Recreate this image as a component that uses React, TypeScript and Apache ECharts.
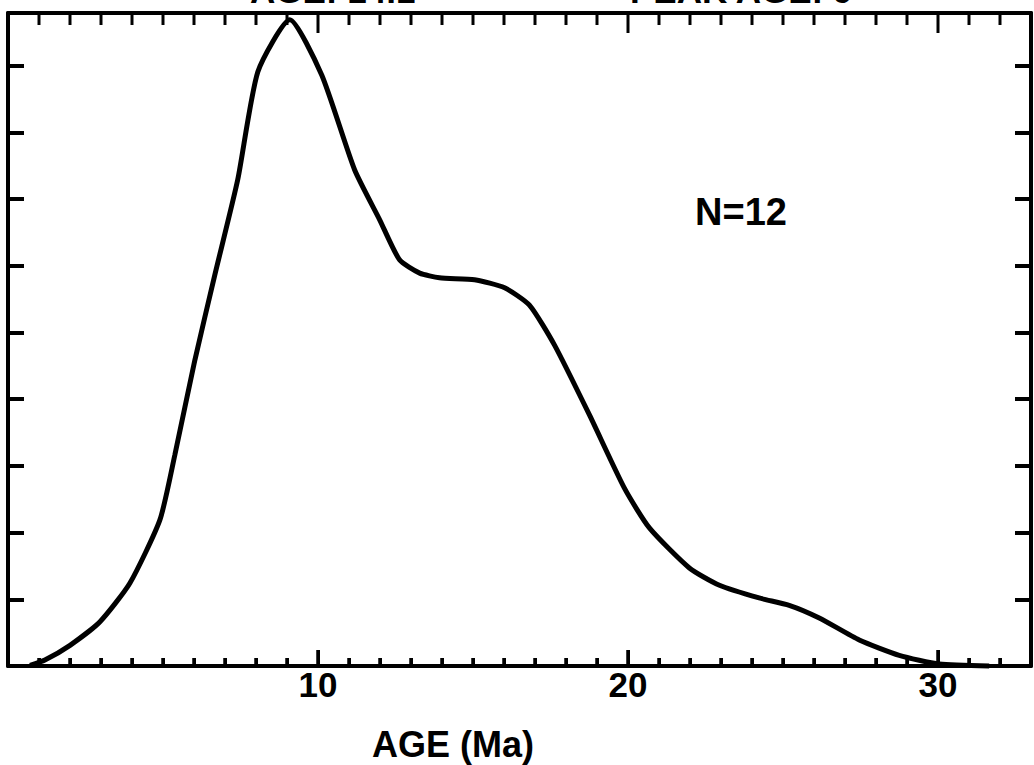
import React, { useEffect, useRef } from "react";
import * as echarts from "echarts";

// Age (Ma) and relative probability density
const ages = [
  0.71, 1.19, 2.0, 2.96, 3.93, 4.9, 5.38, 6.03, 6.67, 7.41, 8.06, 9.09, 10.12, 11.18, 11.99,
  12.63, 13.28, 13.92, 15.05, 16.02, 16.82, 17.63, 18.76, 19.88, 20.69, 21.98, 22.95, 24.23,
  25.2, 26.17, 27.46, 28.75, 30.04, 31.65,
];
const density = [
  0.01, 0.09, 0.31, 0.66, 1.24, 2.19, 3.16, 4.59, 5.86, 7.29, 8.91, 9.69, 8.86, 7.44, 6.69,
  6.09, 5.89, 5.82, 5.79, 5.67, 5.41, 4.81, 3.76, 2.67, 2.07, 1.47, 1.21, 1.02, 0.91, 0.72,
  0.39, 0.16, 0.03, 0.0,
];
const xTickLabels = ["10", "20", "30"];
const majorXTicks = [10, 20, 30];
const minorXTicks = [
  1, 2, 3, 4, 5, 6, 7, 8, 9, 11, 12, 13, 14, 15, 16, 17, 18, 19, 21, 22, 23, 24, 25, 26, 27, 28,
  29, 31, 32,
];
const xName = "AGE (Ma)";
const nLabel = "N=12";
const topLeftText = "AGE: 14.1";
const topRightText = "PEAK AGE: 9";

const X_MIN = 0;
const X_MAX = 33;
const Y_MIN = 0;
const Y_MAX = 9.79;

const FONT = "'Liberation Sans', Arial, Helvetica, sans-serif";

export default function App() {
  const ref = useRef<HTMLDivElement>(null);
  useEffect(() => {
    if (!ref.current) return;
    const chart = echarts.init(ref.current, null, { renderer: "svg" });
    const lineStyle = { color: "#000", width: 4 };
    const yCommon = {
      type: "value" as const,
      min: Y_MIN,
      max: Y_MAX,
      interval: 1,
      axisLine: { show: true, onZero: false, lineStyle },
      axisTick: { show: true, inside: true, length: 16, lineStyle: { color: "#000", width: 4 } },
      axisLabel: { show: false },
      splitLine: { show: false },
    };
    const tickData = [
      ...majorXTicks.map((v) => [v, 5, 1]),
      ...minorXTicks.map((v) => [v, 5, 0]),
    ];
    const textGraphics = [
      {
        type: "text",
        left: 372,
        top: 726,
        style: { text: xName, fill: "#000", font: `bold 36px ${FONT}` },
      },
      {
        type: "text",
        left: 695,
        top: 193,
        style: { text: nLabel, fill: "#000", font: `bold 38px ${FONT}` },
      },
      {
        type: "text",
        x: 250,
        y: 8,
        style: { text: topLeftText, fill: "#000", font: `bold 35px ${FONT}`, verticalAlign: "bottom" },
      },
      {
        type: "text",
        x: 630,
        y: 8,
        style: { text: topRightText, fill: "#000", font: `bold 35px ${FONT}`, verticalAlign: "bottom" },
      },
    ];
    // bottom ticks as mark lines in data units (16 px and 8 px tall)
    const unitPx = (765 - 99 - 13) / (Y_MAX - Y_MIN);
    const markTicks = [
      ...majorXTicks.map((v) => [{ coord: [v, Y_MIN] }, { coord: [v, Y_MIN + 16 / unitPx] }]),
      ...minorXTicks.map((v) => [{ coord: [v, Y_MIN] }, { coord: [v, Y_MIN + 8 / unitPx] }]),
    ];
    chart.setOption({
      animation: false,
      backgroundColor: "#fff",
      grid: { left: 8, right: 2, top: 13, bottom: 99, containLabel: false },
      xAxis: [
        {
          type: "value",
          min: X_MIN,
          max: X_MAX,
          interval: 10,
          position: "bottom",
          axisLine: { show: true, onZero: false, lineStyle },
          axisTick: { show: true, inside: true, length: 16, lineStyle: { color: "#000", width: 3 } },
          minorTick: { show: true, splitNumber: 10, length: 8, lineStyle: { color: "#000", width: 3 } },
          splitLine: { show: false },
          axisLabel: {
            show: true,
            margin: 1,
            color: "#000",
            fontSize: 35,
            fontWeight: "bold",
            fontFamily: FONT,
            formatter: (v: number) => (xTickLabels.includes(String(v)) ? String(v) : ""),
          },
        },
        {
          type: "value",
          min: X_MIN,
          max: X_MAX,
          interval: 10,
          position: "top",
          axisLine: { show: true, onZero: false, lineStyle },
          axisTick: { show: false },
          splitLine: { show: false },
          axisLabel: { show: false },
        },
      ],
      yAxis: [
        { ...yCommon, position: "left" },
        { ...yCommon, position: "right" },
      ],
      series: [
        {
          type: "custom",
          xAxisIndex: 0,
          yAxisIndex: 0,
          silent: true,
          clip: false,
          z: 50,
          data: tickData,
          encode: { x: 0, y: 1 },
          renderItem: (params: any, api: any) => {
            const v = api.value(0);
            const major = api.value(2) === 1;
            const pt = api.coord([v, Y_MAX]);
            const cs = params.coordSys;
            const topY = cs.y;
            const bottomY = cs.y + cs.height;
            const lenB = major ? 16 : 8;
            const lenT = major ? 20 : 12;
            return {
              type: "group",
              children: [
                {
                  type: "rect",
                  shape: { x: pt[0] - 1.5, y: bottomY - lenB, width: 3, height: lenB },
                  style: { fill: "#000" },
                },
                {
                  type: "rect",
                  shape: { x: pt[0] - 1.5, y: topY, width: 3, height: lenT },
                  style: { fill: "#000" },
                },
              ],
            };
          },
        },
        {
          type: "line",
          xAxisIndex: 0,
          yAxisIndex: 0,
          data: ages.map((a, i) => [a, density[i]]),
          showSymbol: false,
          smooth: 0.2,
          lineStyle: { color: "#000", width: 5 },
          clip: false,
          markLine: {
            silent: true,
            symbol: "none",
            animation: false,
            label: { show: false },
            lineStyle: { color: "#000", width: 3, type: "solid" },
            data: markTicks,
          },
        },
      ],
      graphic: textGraphics,
    });

    // bottom ticks once more as graphic rects, positioned through the x scale
    const finder = { xAxisIndex: 0, yAxisIndex: 0 };
    const tickRects: any[] = [];
    const addTick = (v: number, len: number) => {
      const p = chart.convertToPixel(finder, [v, Y_MIN]) as number[];
      if (!p || !isFinite(p[0]) || !isFinite(p[1])) return;
      tickRects.push({
        type: "rect",
        silent: true,
        z: 100,
        shape: { x: p[0] - 1.5, y: p[1] - len, width: 3, height: len },
        style: { fill: "#000" },
      });
    };
    majorXTicks.forEach((v) => addTick(v, 16));
    minorXTicks.forEach((v) => addTick(v, 8));
    chart.setOption({ graphic: [...textGraphics, ...tickRects] });

    return () => chart.dispose();
  }, []);
  return (
    <div
      ref={ref}
      style={{ position: "fixed", left: 0, top: 0, width: 1034, height: 765, background: "#fff" }}
    />
  );
}
